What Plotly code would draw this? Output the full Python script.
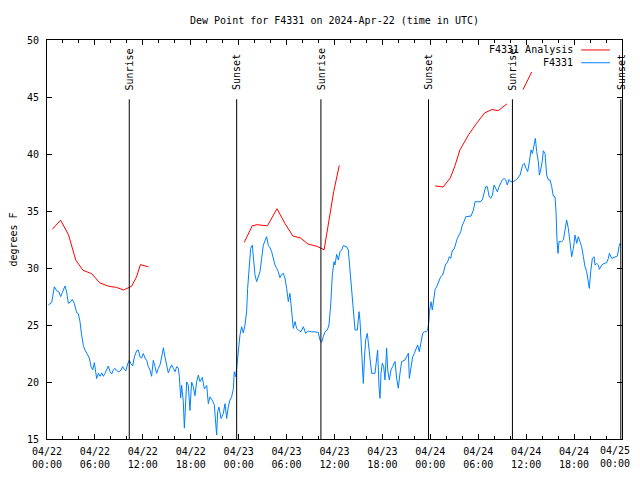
import pandas as pd
import plotly.graph_objects as go

START = pd.Timestamp("2024-04-22 00:00")

# ---- data: hours since 2024-04-22 00:00 UTC, dew point (F) ----
obs_hours = [
    0.17, 0.58, 0.92, 1.21, 1.5, 1.71, 1.92, 2.25, 2.46, 2.67, 2.96, 3.17, 3.42, 3.71, 3.92,
    4.13, 4.34, 4.55, 4.76, 5.09, 5.3, 5.51, 5.72, 5.93, 6.09, 6.22, 6.43, 6.64, 6.85, 7.05,
    7.26, 7.47, 7.68, 7.89, 8.1, 8.3, 8.51, 8.72, 9.0, 9.27, 9.47, 9.68, 9.89, 10.1, 10.31,
    10.52, 10.73, 10.94, 11.23, 11.44, 11.64, 11.85, 12.06, 12.27, 12.48, 12.69, 12.9, 13.1,
    13.31, 13.52, 13.73, 13.94, 14.15, 14.36, 14.57, 14.77, 14.98, 15.19, 15.4, 15.61, 15.82,
    16.03, 16.24, 16.44, 16.57, 16.74, 16.86, 17.07, 17.2, 17.28, 17.49, 17.7, 17.9, 18.11,
    18.32, 18.53, 18.74, 18.95, 19.16, 19.45, 19.7, 20.0, 20.2, 20.41, 20.7, 20.95, 21.12,
    21.24, 21.37, 21.53, 21.79, 22.08, 22.29, 22.5, 22.7, 22.91, 23.12, 23.33, 23.45, 23.62,
    23.79, 23.96, 24.16, 24.37, 24.58, 24.79, 25.0, 25.12, 25.29, 25.5, 25.71, 25.88, 26.04,
    26.25, 26.46, 26.67, 26.88, 27.09, 27.29, 27.5, 27.71, 27.92, 28.13, 28.34, 28.55, 28.76,
    28.96, 29.17, 29.38, 29.59, 29.8, 30.01, 30.22, 30.42, 30.63, 30.84, 31.05, 31.26, 31.47,
    31.8, 32.1, 32.39, 32.72, 33.14, 33.56, 33.97, 34.18, 34.39, 34.6, 34.81, 35.1, 35.31,
    35.52, 35.73, 35.94, 36.06, 36.27, 36.48, 36.69, 36.9, 37.1, 37.52, 37.73, 37.94, 38.15,
    38.35, 38.57, 38.86, 39.07, 39.19, 39.4, 39.61, 39.74, 39.9, 40.11, 40.32, 40.53, 40.65,
    41.07, 41.28, 41.4, 41.57, 41.7, 41.82, 41.99, 42.16, 42.32, 42.53, 42.66, 42.87, 43.07,
    43.28, 43.58, 43.78, 43.99, 44.2, 44.41, 44.83, 45.04, 45.25, 45.37, 45.58, 45.79, 46.0,
    46.2, 46.41, 46.62, 46.83, 47.04, 47.25, 47.46, 47.67, 47.83, 47.88, 48.09, 48.25, 48.46,
    48.59, 48.8, 49.01, 49.3, 49.55, 49.72, 49.92, 50.13, 50.38, 50.55, 50.76, 50.97, 51.18,
    51.38, 51.59, 51.8, 52.01, 52.22, 52.43, 52.76, 53.1, 53.39, 53.6, 53.89, 54.22, 54.51,
    54.72, 54.93, 55.14, 55.35, 55.56, 55.77, 55.98, 56.18, 56.39, 56.6, 56.81, 57.02, 57.23,
    57.44, 57.64, 57.85, 58.06, 58.4, 58.81, 59.23, 59.56, 59.77, 59.98, 60.19, 60.4, 60.61,
    60.78, 60.98, 61.15, 61.32, 61.53, 61.65, 61.82, 62.03, 62.15, 62.36, 62.57, 62.78, 62.99,
    63.2, 63.4, 63.61, 63.74, 63.86, 63.99, 64.11, 64.45, 64.66, 64.87, 65.07, 65.28, 65.49,
    65.7, 65.91, 66.12, 66.33, 66.53, 66.74, 66.95, 67.16, 67.37, 67.58, 67.79, 67.91, 68.08,
    68.29, 68.5, 68.62, 68.83, 69.04, 69.17, 69.46, 69.75, 70.08, 70.29, 70.42, 70.71, 71.13,
    71.42, 71.63, 71.75, 71.9,
]
obs_values = [
    26.76, 26.96, 28.36, 28.0, 27.9, 27.49, 27.84, 28.42, 27.9, 26.9, 27.05, 27.25, 26.9, 26.08, 26.0,
    25.3, 24.1, 23.2, 22.8, 22.4, 22.1, 21.35, 21.05, 21.7, 20.9, 20.3, 20.76, 20.5, 20.8, 20.5,
    20.76, 21.1, 21.4, 20.9, 20.7, 21.05, 21.2, 21.0, 20.9, 21.05, 21.35, 21.1, 21.0, 21.6, 21.9,
    21.6, 21.4, 22.2, 22.75, 22.8, 22.2, 22.1, 22.5, 22.1, 21.9, 21.35, 21.05, 20.5,
    21.9, 21.35, 20.76, 21.2, 21.5, 22.2, 23.0, 22.2, 21.35, 20.8, 21.2, 21.5, 21.2,
    20.9, 21.35, 21.2, 20.5, 18.6, 19.7, 18.3, 15.95, 17.1, 20.0, 19.7, 17.5, 20.0,
    19.6, 18.8, 20.03, 20.6, 20.03, 20.4, 19.4, 19.7, 18.1, 18.7, 18.4, 18.0, 16.23,
    15.35, 17.4, 17.8, 16.8, 17.25, 18.1, 16.8, 17.8, 18.4, 18.7, 19.4, 20.9, 20.47,
    21.5, 22.66, 24.1, 24.85, 24.3, 25.0, 26.2, 28.2, 30.26, 31.72, 32.0, 30.85, 29.4,
    28.8, 29.24, 29.68, 30.85, 32.0, 32.37, 32.75, 32.0, 31.78, 31.43, 30.85, 30.26, 29.97,
    29.68, 29.15, 29.44, 29.53, 29.1, 28.2, 27.05, 27.78, 26.0, 24.7, 25.3, 24.7, 24.56,
    24.4, 24.85, 24.27, 24.47, 24.4, 24.4, 24.35, 23.68, 23.48, 23.97, 24.4, 24.56, 25.0,
    26.75, 29.4, 30.55, 30.26, 31.2, 30.7, 31.43, 31.58, 31.96, 31.87, 31.58, 29.97, 28.2,
    26.75, 24.56, 24.56, 26.17, 25.4, 22.96, 19.88, 21.93, 23.68, 24.27, 22.8, 21.79, 20.76,
    20.76, 22.2, 22.8, 19.59, 18.57, 20.76, 21.64, 21.35, 20.18, 22.96, 21.05, 20.18, 21.05,
    21.35, 21.79, 20.32, 19.45, 20.76, 21.79, 21.93, 22.22, 22.52, 20.32, 21.35, 22.22, 22.52,
    22.96, 23.25, 22.66, 23.45, 24.27, 24.4, 24.4, 24.56, 25.4, 26.17, 27.04, 26.31, 27.48,
    28.12, 28.36, 28.8, 29.24, 29.38, 29.82, 30.35, 30.46, 30.99, 30.84, 31.57, 31.63, 32.16,
    32.6, 32.89, 33.18, 33.77, 34.06, 34.5, 34.5, 34.56, 35.08, 35.81, 35.81, 35.81, 35.96,
    36.69, 37.13, 37.13, 36.31, 36.11, 36.4, 37.28, 36.98, 36.69, 37.13, 37.42, 37.72, 37.86,
    37.72, 37.28, 37.77, 37.57, 37.57, 37.77, 38.15, 39.03, 39.18, 38.74, 38.45, 39.32, 40.35,
    40.05, 40.64, 41.37, 40.2, 39.32, 38.15, 38.59, 39.47, 40.29, 40.05, 38.15, 37.72, 37.72,
    37.13, 36.31, 36.25, 34.94, 32.45, 31.28, 32.31, 32.31, 32.45, 33.62, 34.21, 33.47, 32.31,
    30.99, 31.72, 32.89, 32.16, 32.75, 32.31, 31.87, 30.99, 30.11, 29.67, 28.8, 28.21, 29.67,
    30.84, 30.99, 30.26, 30.4, 30.26, 29.88, 30.26, 30.4, 30.46, 30.84, 31.28, 30.84, 30.99,
    31.05, 31.87, 32.16, 32.0,
]

# analysis series (None = gap between runs)
ana_hours = [
    0.67, 1.7, 2.7, 3.6, 4.5, 5.6, 6.6, 7.7, 8.7, 9.6, 10.6, 11.2, 11.7, 12.7, None,
    24.7, 25.7, 26.3, 27.6, 28.8, 29.8, 30.8, 31.7, 32.7, 33.8, 34.7, 35.0, 35.4, 35.9, 36.6, None,
    48.6, 49.6, 50.5, 51.1, 51.7, 52.8, 53.8, 54.8, 55.7, 56.5, 57.6, None,
    59.6, 60.69,
]
ana_values = [
    33.4, 34.2, 32.9, 30.7, 29.8, 29.5, 28.7, 28.4, 28.3, 28.07, 28.4, 29.2, 30.3, 30.1, None,
    32.25, 33.7, 33.8, 33.7, 35.2, 33.9, 32.8, 32.65, 32.1, 31.9, 31.6, 32.9, 34.85, 36.7, 39.0, None,
    37.2, 37.1, 37.9, 39.0, 40.35, 41.7, 42.7, 43.6, 43.9, 43.8, 44.4, None,
    45.64, 47.19,
]

sun_hours = [10.3, 23.75, 34.3, 47.77, 58.28, 71.85]
sun_labels = ["Sunrise", "Sunset", "Sunrise", "Sunset", "Sunrise", "Sunset"]

series_names = ["F4331 Analysis", "F4331"]
series_colors = ["#ff0000", "#0080ff"]

title_text = "Dew Point for F4331 on 2024-Apr-22 (time in UTC)"
y_title = "degrees F"
y_range = [15, 50]


def to_time(hs):
    return [None if h is None else START + pd.Timedelta(hours=h) for h in hs]


FONT = "DejaVu Sans Mono"
# page body has an 8px default margin; shift the figure so it sits like the reference
PAGE_OFF = 8
W, H = 640 - 2 * PAGE_OFF, 462

fig = go.Figure()
fig.add_trace(go.Scatter(x=to_time(ana_hours), y=ana_values, mode="lines",
                         line=dict(color=series_colors[0], width=1),
                         name=series_names[0], connectgaps=False))
fig.add_trace(go.Scatter(x=to_time(obs_hours), y=obs_values, mode="lines",
                         line=dict(color=series_colors[1], width=1),
                         name=series_names[1]))

for h, lab in zip(sun_hours, sun_labels):
    t = START + pd.Timedelta(hours=h)
    fig.add_shape(type="line", x0=t, x1=t, y0=y_range[0], y1=44.8,
                  xref="x", yref="y", line=dict(color="black", width=1))
    fig.add_annotation(x=t, y=45.5, xref="x", yref="y", text=lab, textangle=-90,
                       showarrow=False, xanchor="center", yanchor="bottom",
                       font=dict(family=FONT, size=10, color="black"),
                       borderpad=0)

# legend (gnuplot style: text then sample line at right)
leg_y = [0.975, 0.943]
for name, col, ly in zip(series_names, series_colors, leg_y):
    fig.add_annotation(x=0.917, y=ly, xref="paper", yref="paper", text=name,
                       showarrow=False, xanchor="right", yanchor="middle",
                       font=dict(family=FONT, size=10, color="black"), borderpad=0)
    fig.add_shape(type="line", xref="paper", yref="paper", x0=0.929, x1=0.979,
                  y0=ly, y1=ly, line=dict(color=col, width=1))

tick_vals = [START + pd.Timedelta(hours=6 * i) for i in range(13)]
tick_text = [t.strftime("%m/%d<br>%H:%M") for t in tick_vals]
# the last tick label would run past the page edge: draw it right-aligned inside instead
last_label = tick_text[-1]
tick_text[-1] = ""
fig.add_annotation(x=1, y=0, xref="paper", yref="paper", text=last_label,
                   showarrow=False, xanchor="right", yanchor="top", align="center",
                   xshift=9, yshift=-5, borderpad=0,
                   font=dict(family=FONT, size=10, color="black"))

fig.update_layout(
    width=W, height=H,
    margin=dict(l=47 - PAGE_OFF, r=18 - PAGE_OFF, t=40 - PAGE_OFF, b=H - (439 - PAGE_OFF)),
    paper_bgcolor="white", plot_bgcolor="white",
    showlegend=False,
    font=dict(family=FONT, size=10, color="black"),
    title=dict(text=title_text, x=0.5, xref="paper", y=1 - (20 - PAGE_OFF) / H, yref="container",
               xanchor="center", yanchor="middle", font=dict(family=FONT, size=10)),
    xaxis=dict(
        range=[START, START + pd.Timedelta(hours=72)], automargin=False,
        tickmode="array", tickvals=tick_vals, ticktext=tick_text,
        ticklabeloverflow="allow",
        ticks="inside", ticklen=5, tickcolor="black", mirror="allticks",
        showline=True, linecolor="black", linewidth=1, showgrid=False, zeroline=False,
        minor=dict(ticks="inside", ticklen=3, dtick=2 * 3600 * 1000, tickcolor="black",
                   tick0=START, showgrid=False),
        tickfont=dict(family=FONT, size=10), ticklabelstandoff=3,
    ),
    yaxis=dict(
        range=y_range, dtick=5, tick0=15, automargin=False,
        ticks="inside", ticklen=5, tickcolor="black", mirror="allticks",
        showline=True, linecolor="black", linewidth=1, showgrid=False, zeroline=False,
        tickfont=dict(family=FONT, size=10), ticklabelstandoff=5,
        title=dict(text=y_title, font=dict(family=FONT, size=10), standoff=15),
    ),
)

fig.write_html("out.html")
